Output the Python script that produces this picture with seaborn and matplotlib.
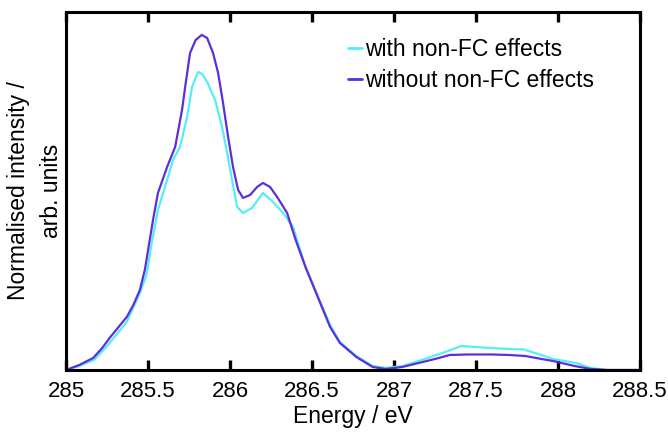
import matplotlib
matplotlib.use("Agg")
import matplotlib.pyplot as plt
import numpy as np
import pandas as pd
import seaborn as sns

# values (heights relative to the tallest peak = 335)
energy_without = [285.00, 285.08, 285.165, 285.22, 285.27, 285.32, 285.37, 285.41, 285.45,
                  285.48, 285.50, 285.53, 285.56, 285.616, 285.665, 285.707, 285.726, 285.756,
                  285.79, 285.827, 285.86, 285.896, 285.927, 285.957, 285.988, 286.018, 286.049,
                  286.079, 286.122, 286.165, 286.20, 286.244, 286.287, 286.348, 286.40, 286.46,
                  286.55, 286.61, 286.67, 286.77, 286.87, 286.95, 287.05, 287.15, 287.25,
                  287.34, 287.45, 287.60, 287.70, 287.80, 287.90, 287.97, 288.10, 288.20,
                  288.30, 288.50]
int_without = [0, 5, 12, 22, 33, 43, 53, 65, 80,
               100, 120, 150, 177, 203, 223, 260, 283, 317,
               330, 335, 332, 317, 297, 267, 233, 203, 180,
               172, 175, 183, 187, 183, 173, 157, 130, 103,
               67, 43, 27, 13, 3, 1, 3, 7, 11,
               15, 15.5, 15.5, 15, 14, 11, 9, 4, 1,
               0, 0]

energy_with = [285.00, 285.08, 285.17, 285.25, 285.31, 285.37, 285.45, 285.49, 285.52,
               285.56, 285.616, 285.652, 285.695, 285.738, 285.768, 285.805, 285.83, 285.86,
               285.909, 285.951, 285.982, 286.012, 286.043, 286.079, 286.134, 286.20, 286.262,
               286.323, 286.384, 286.46, 286.55, 286.61, 286.67, 286.77, 286.87, 286.95,
               287.05, 287.15, 287.24, 287.33, 287.41, 287.50, 287.58, 287.70, 287.79,
               287.88, 287.97, 288.11, 288.20, 288.30, 288.50]
int_with = [0, 4, 10, 24, 36, 48, 77, 95, 125,
            160, 190, 210, 223, 253, 283, 298, 296, 288,
            270, 243, 217, 190, 163, 157, 162, 177, 168,
            157, 143, 103, 68, 45, 28, 14, 4, 2,
            4, 9, 14, 19, 24, 23, 22, 21, 20.5,
            16, 11, 7, 2, 0, 0]

labels = ["with non-FC effects", "without non-FC effects"]
colors = ["#55eef5", "#5a2fdc"]

df = pd.concat([
    pd.DataFrame({"energy": energy_with, "intensity": np.array(int_with) / 335, "series": labels[0]}),
    pd.DataFrame({"energy": energy_without, "intensity": np.array(int_without) / 335, "series": labels[1]}),
], ignore_index=True)

sns.set_style("white")
plt.rcParams["font.family"] = ["Liberation Sans", "DejaVu Sans"]
plt.rcParams["text.color"] = "black"
plt.rcParams["axes.labelcolor"] = "black"

fig = plt.figure(figsize=(6.68, 4.34), dpi=100)
ax = fig.add_axes([0.099, 0.1475, 0.859, 0.825])

sns.lineplot(data=df, x="energy", y="intensity", hue="series", palette=colors,
             estimator=None, sort=False, linewidth=1.6, ax=ax)

ax.set_xlim(285, 288.5)
ax.set_ylim(0, 358 / 335)
ax.set_xticks(np.arange(285, 288.51, 0.5))
ax.set_xticklabels(["285", "285.5", "286", "286.5", "287", "287.5", "288", "288.5"])
ax.set_yticks([])
ax.tick_params(axis="x", direction="in", length=7.5, width=2.4, top=True, bottom=True,
               labelsize=16, pad=8, colors="black")
for s in ax.spines.values():
    s.set_linewidth(2.2)
    s.set_color("black")

ax.set_xlabel("Energy / eV", fontsize=16.5, labelpad=2)
ax.set_ylabel("Normalised intensity /\narb. units", fontsize=16.5, labelpad=2,
              linespacing=1.55)

leg = ax.legend(loc="upper left", bbox_to_anchor=(0.455, 0.985), frameon=False,
                fontsize=16.5, handlelength=0.6, handletextpad=0.15, labelspacing=0.35)
for line in leg.get_lines():
    line.set_linewidth(2)

fig.savefig("out.png", dpi=100)
